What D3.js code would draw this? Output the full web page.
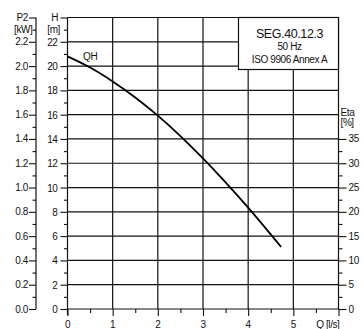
<!DOCTYPE html>
<html><head><meta charset="utf-8">
<script src="https://cdn.jsdelivr.net/npm/d3@7"></script>
<style>
html,body{margin:0;padding:0;background:#fff;}
svg{display:block;font-family:"Liberation Sans",Arial,sans-serif;}
text{fill:#111;letter-spacing:-0.4px;}
</style></head>
<body><svg id="c" width="364" height="329"></svg>
<script>
// Data
const flowQ = [0, 0.5, 1.0, 1.5, 2.0, 2.5, 3.0, 3.5, 4.0, 4.5, 4.73];
const headH = [20.8, 19.88, 18.74, 17.42, 15.92, 14.24, 12.4, 10.42, 8.34, 6.14, 5.1];
const qTicks = [0, 1, 2, 3, 4, 5, 6];
const qTickLabels = ["0", "1", "2", "3", "4", "5", ""];
const hTicks = [0, 2, 4, 6, 8, 10, 12, 14, 16, 18, 20, 22];
const p2Ticks = [0, 0.2, 0.4, 0.6, 0.8, 1.0, 1.2, 1.4, 1.6, 1.8, 2.0, 2.2];
const etaTicks = [0, 5, 10, 15, 20, 25, 30, 35];
const titleLines = ["SEG.40.12.3", "50 Hz", "ISO 9906 Annex A"];
const curveLabel = "QH";

const svg = d3.select("#c");
const L = 67.5, R = 338.5, T = 17.5, B = 309;
const x = d3.scaleLinear().domain([0, 6]).range([L, R]);
const y = d3.scaleLinear().domain([0, 24]).range([B, T]);
const yP = d3.scaleLinear().domain([0, 2.4]).range([B, T]);
const yE = d3.scaleLinear().domain([0, 60]).range([B, T]);
const col = "#111";

// grid
const g = svg.append("g").attr("stroke", col).attr("stroke-width", 1.2);
hTicks.filter(d => d > 0).forEach(d => g.append("line").attr("x1", L).attr("x2", R).attr("y1", y(d)).attr("y2", y(d)));
qTicks.filter(d => d > 0 && d < 6).forEach(d => g.append("line").attr("x1", x(d)).attr("x2", x(d)).attr("y1", B).attr("y2", T));
g.append("line").attr("x1", L).attr("x2", R).attr("y1", T).attr("y2", T);
g.append("line").attr("x1", R).attr("x2", R).attr("y1", T).attr("y2", B);

// H axis
const hAxis = svg.append("g").attr("transform", `translate(${L},0)`)
  .call(d3.axisLeft(y).tickValues(d3.range(0, 25, 1)).tickSize(0).tickFormat(""));
hAxis.select(".domain").remove();
hAxis.append("line").attr("x1", 0).attr("x2", 0).attr("y1", T).attr("y2", B + 6).attr("stroke", col).attr("stroke-width", 1.2);
hAxis.selectAll(".tick line").attr("x1", d => d % 2 === 0 ? -7 : -3.5).attr("stroke", col).attr("stroke-width", 1.1);
hAxis.selectAll(".tick").filter(d => hTicks.includes(d)).append("text")
  .attr("x", -10).attr("dy", "0.35em").attr("text-anchor", "end").attr("font-size", 10).text(d => d);
svg.append("text").attr("x", 58).attr("y", y(24) + 3.5).attr("text-anchor", "end").attr("font-size", 10).text("H");
svg.append("text").attr("x", 60).attr("y", y(23) + 3.5).attr("text-anchor", "end").attr("font-size", 10).text("[m]");

// P2 axis
const PX = 36;
const pAxis = svg.append("g").attr("transform", `translate(${PX},0)`)
  .call(d3.axisLeft(yP).tickValues(d3.range(0, 25, 1).map(d => d / 10)).tickSize(0).tickFormat(""));
pAxis.select(".domain").remove();
pAxis.append("line").attr("x1", 0).attr("x2", 0).attr("y1", T).attr("y2", B).attr("stroke", col).attr("stroke-width", 1.2);
pAxis.selectAll(".tick line").attr("x1", (d, i) => i % 2 === 0 ? -7 : -3.5).attr("stroke", col).attr("stroke-width", 1.1);
p2Ticks.forEach(d => svg.append("text").attr("x", PX - 8).attr("y", yP(d)).attr("dy", "0.35em")
  .attr("text-anchor", "end").attr("font-size", 10).text(d3.format(".1f")(d)));
svg.append("text").attr("x", PX - 8).attr("y", yP(2.4) + 3.5).attr("text-anchor", "end").attr("font-size", 10).text("P2");
svg.append("text").attr("x", PX - 3.5).attr("y", yP(2.3) + 3.5).attr("text-anchor", "end").attr("font-size", 10).text("[kW]");

// Eta axis
const eAxis = svg.append("g").attr("transform", `translate(${R},0)`)
  .call(d3.axisRight(yE).tickValues(d3.range(0, 36, 2.5)).tickSize(0).tickFormat(""));
eAxis.select(".domain").remove();
eAxis.selectAll(".tick line").attr("x2", d => d % 5 === 0 ? 8 : 4).attr("stroke", col).attr("stroke-width", 1.1);
etaTicks.forEach(d => svg.append("text").attr("x", R + 10).attr("y", yE(d)).attr("dy", "0.35em")
  .attr("font-size", 10).text(d));
svg.append("text").attr("x", R + 2).attr("y", 116).attr("font-size", 10).text("Eta");
svg.append("text").attr("x", R + 2).attr("y", 126).attr("font-size", 10).text("[%]");

// Q axis
const qAxis = svg.append("g").attr("transform", `translate(0,${B})`)
  .call(d3.axisBottom(x).tickValues(d3.range(0, 6.01, 0.5)).tickSize(0).tickFormat(""));
qAxis.select(".domain").remove();
qAxis.append("line").attr("x1", L).attr("x2", R).attr("y1", 0).attr("y2", 0).attr("stroke", col).attr("stroke-width", 1.2);
qAxis.selectAll(".tick line").attr("y2", d => d % 1 === 0 ? 7 : 4).attr("stroke", col).attr("stroke-width", 1.1);
qTicks.forEach((d, i) => svg.append("text").attr("x", x(d)).attr("y", 327.5).attr("text-anchor", "middle")
  .attr("font-size", 10).text(qTickLabels[i]));
svg.append("text").attr("x", R + 1).attr("y", 327.5).attr("text-anchor", "end").attr("font-size", 10).text("Q [l/s]");

// curve
const pts = flowQ.map((q, i) => [q, headH[i]]);
svg.append("path").datum(pts)
  .attr("d", d3.line().x(d => x(d[0])).y(d => y(d[1])).curve(d3.curveCatmullRom.alpha(0.5)))
  .attr("fill", "none").attr("stroke", "#000").attr("stroke-width", 1.8);
svg.append("text").attr("x", 83).attr("y", 60).attr("font-size", 10).text(curveLabel);

// title box
const bx = 238.5, by = T, bw = R - bx, bh = 52;
svg.append("rect").attr("x", bx).attr("y", by).attr("width", bw).attr("height", bh)
  .attr("fill", "#fff").attr("stroke", col).attr("stroke-width", 1.2);
const cx = bx + bw / 2 + 1;
svg.append("text").attr("x", cx).attr("y", 37.5).attr("text-anchor", "middle").attr("font-size", 12.5).text(titleLines[0]);
svg.append("text").attr("x", cx).attr("y", 50).attr("text-anchor", "middle").attr("font-size", 10).text(titleLines[1]);
svg.append("text").attr("x", cx).attr("y", 63).attr("text-anchor", "middle").attr("font-size", 10).text(titleLines[2]);
</script></body></html>
